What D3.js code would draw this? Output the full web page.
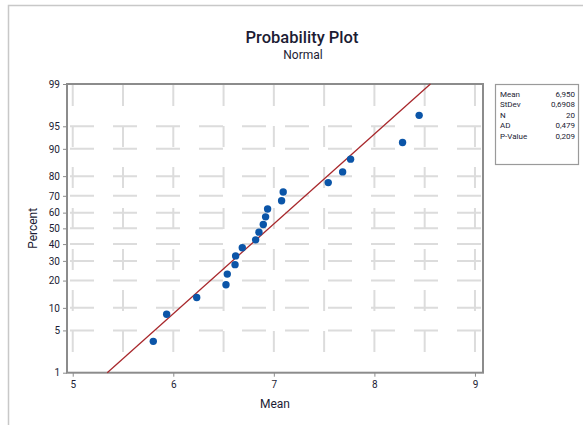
<!DOCTYPE html>
<html>
<head>
<meta charset="utf-8">
<script src="https://cdn.jsdelivr.net/npm/d3@7"></script>
<style>
html,body{margin:0;padding:0;background:#fff;}
svg{display:block;font-family:Roboto,"Open Sans",sans-serif;}
</style>
</head>
<body>
<svg id="chart" width="583" height="425"></svg>
<script>
// ---- data ----
const meanValues = [5.801, 5.934, 6.233, 6.524, 6.537, 6.614, 6.620, 6.686, 6.819, 6.852,
                    6.895, 6.918, 6.938, 7.077, 7.093, 7.541, 7.684, 7.763, 8.280, 8.445];
const percentValues = [3.43, 8.33, 13.24, 18.14, 23.04, 27.94, 32.84, 37.75, 42.65, 47.55,
                       52.45, 57.35, 62.25, 67.16, 72.06, 76.96, 81.86, 86.76, 91.67, 96.57];
const percentTicks = [1, 5, 10, 20, 30, 40, 50, 60, 70, 80, 90, 95, 99];
const xTicks = [5, 6, 7, 8, 9];
const xGrid = [5, 5.5, 6, 6.5, 7, 7.5, 8, 8.5, 9];
const statLabels = ["Mean", "StDev", "N", "AD", "P-Value"];
const statValues = ["6,950", "0,6908", "20", "0,479", "0,209"];
const fitMean = 6.950, fitSd = 0.6908;
const titleText = "Probability Plot", subtitleText = "Normal";
const xTitle = "Mean", yTitle = "Percent";

// inverse normal CDF (Acklam)
function probit(p){
  const a=[-3.969683028665376e+01,2.209460984245205e+02,-2.759285104469687e+02,1.383577518672690e+02,-3.066479806614716e+01,2.506628277459239e+00];
  const b=[-5.447609879822406e+01,1.615858368580409e+02,-1.556989798598866e+02,6.680131188771972e+01,-1.328068155288572e+01];
  const c=[-7.784894002430293e-03,-3.223964580411365e-01,-2.400758277161838e+00,-2.549732539343734e+00,4.374664141464968e+00,2.938163982698783e+00];
  const d=[7.784695709041462e-03,3.224671290700398e-01,2.445134137142996e+00,3.754408661907416e+00];
  const pl=0.02425, ph=1-pl; let q,r;
  if(p<pl){q=Math.sqrt(-2*Math.log(p));return (((((c[0]*q+c[1])*q+c[2])*q+c[3])*q+c[4])*q+c[5])/((((d[0]*q+d[1])*q+d[2])*q+d[3])*q+1);}
  if(p<=ph){q=p-0.5;r=q*q;return (((((a[0]*r+a[1])*r+a[2])*r+a[3])*r+a[4])*r+a[5])*q/(((((b[0]*r+b[1])*r+b[2])*r+b[3])*r+b[4])*r+1);}
  q=Math.sqrt(-2*Math.log(1-p));return -(((((c[0]*q+c[1])*q+c[2])*q+c[3])*q+c[4])*q+c[5])/((((d[0]*q+d[1])*q+d[2])*q+d[3])*q+1);
}

const svg = d3.select("#chart");
const L = 67, R = 483, T = 84, B = 372.7;
const x = d3.scaleLinear().domain([4.943, 9.08]).range([L, R]);
const z = d3.scaleLinear().domain([probit(0.01), probit(0.99)]).range([B, T]);
const y = p => z(probit(p/100));
const txt = "#1c1c34";

// outer frame
svg.append("path").attr("d","M8.5,425 V5.5 H583").attr("fill","none").attr("stroke","#c8c8c8").attr("stroke-width",1.5);

// titles
svg.append("text").attr("x",302).attr("y",43).attr("text-anchor","middle")
  .attr("font-size",16.5).attr("font-weight",500).attr("fill",txt).text(titleText);
svg.append("text").attr("x",303).attr("y",59).attr("text-anchor","middle")
  .attr("font-size",12).attr("fill",txt).text(subtitleText);

// grid
const grid = svg.append("g").attr("stroke","#dcdcdc").attr("stroke-width",2).attr("fill","none");
grid.selectAll(".gv").data(xGrid).join("line")
  .attr("x1",d=>x(d)).attr("x2",d=>x(d)).attr("y1",T+1).attr("y2",B)
  .attr("stroke-dasharray","21,20");
grid.selectAll(".gh").data(percentTicks.filter(d=>d>1&&d<99)).join("line")
  .attr("x1",L+3).attr("x2",R).attr("y1",d=>y(d)).attr("y2",d=>y(d))
  .attr("stroke-dasharray","24,19");

// axes
const ax = svg.append("g").attr("transform",`translate(${L},0)`)
  .call(d3.axisLeft(z).tickValues(percentTicks.map(p=>probit(p/100))).tickFormat((d,i)=>percentTicks[i]).tickSize(4).tickPadding(3));
const bx = svg.append("g").attr("transform",`translate(0,${B})`)
  .call(d3.axisBottom(x).tickValues(xTicks).tickFormat(d3.format("d")).tickSize(4).tickPadding(4));
[ax,bx].forEach(g=>{
  g.select(".domain").remove();
  g.selectAll("line").attr("stroke","#8c8c8c");
  g.selectAll("text").attr("font-size",10).attr("fill",txt).attr("font-family","Roboto,sans-serif");
});
// plot frame
svg.append("rect").attr("x",L).attr("y",T).attr("width",R-L).attr("height",B-T)
  .attr("fill","none").attr("stroke","#8c8c8c").attr("stroke-width",2);

// axis titles
svg.append("text").attr("x",(L+R)/2).attr("y",408).attr("text-anchor","middle")
  .attr("font-size",12).attr("fill",txt).text(xTitle);
svg.append("text").attr("transform",`translate(37,${(T+B)/2}) rotate(-90)`).attr("text-anchor","middle")
  .attr("font-size",12).attr("fill",txt).text(yTitle);

// fitted line
const fit = [1, 99].map(p => ({p, v: fitMean + fitSd*probit(p/100)}));
svg.append("line").attr("x1",x(fit[0].v)).attr("y1",y(fit[0].p)).attr("x2",x(fit[1].v)).attr("y2",y(fit[1].p))
  .attr("stroke","#a8282c").attr("stroke-width",1.3);

// points
svg.append("g").selectAll("circle").data(meanValues).join("circle")
  .attr("cx",d=>x(d)).attr("cy",(d,i)=>y(percentValues[i])).attr("r",3.7)
  .attr("fill","#0b55a8");

// legend box
const lg = svg.append("g");
lg.append("rect").attr("x",495.5).attr("y",84.5).attr("width",83).attr("height",80)
  .attr("fill","#fff").attr("stroke","#9a9a9a").attr("stroke-width",1.2);
lg.selectAll(".ll").data(statLabels).join("text")
  .attr("x",500).attr("y",(d,i)=>97+i*10.4).attr("font-size",8).attr("fill",txt).text(d=>d);
lg.selectAll(".lv").data(statValues).join("text")
  .attr("x",575).attr("y",(d,i)=>97+i*10.4).attr("text-anchor","end").attr("font-size",8).attr("fill",txt).text(d=>d);
</script>
</body>
</html>
